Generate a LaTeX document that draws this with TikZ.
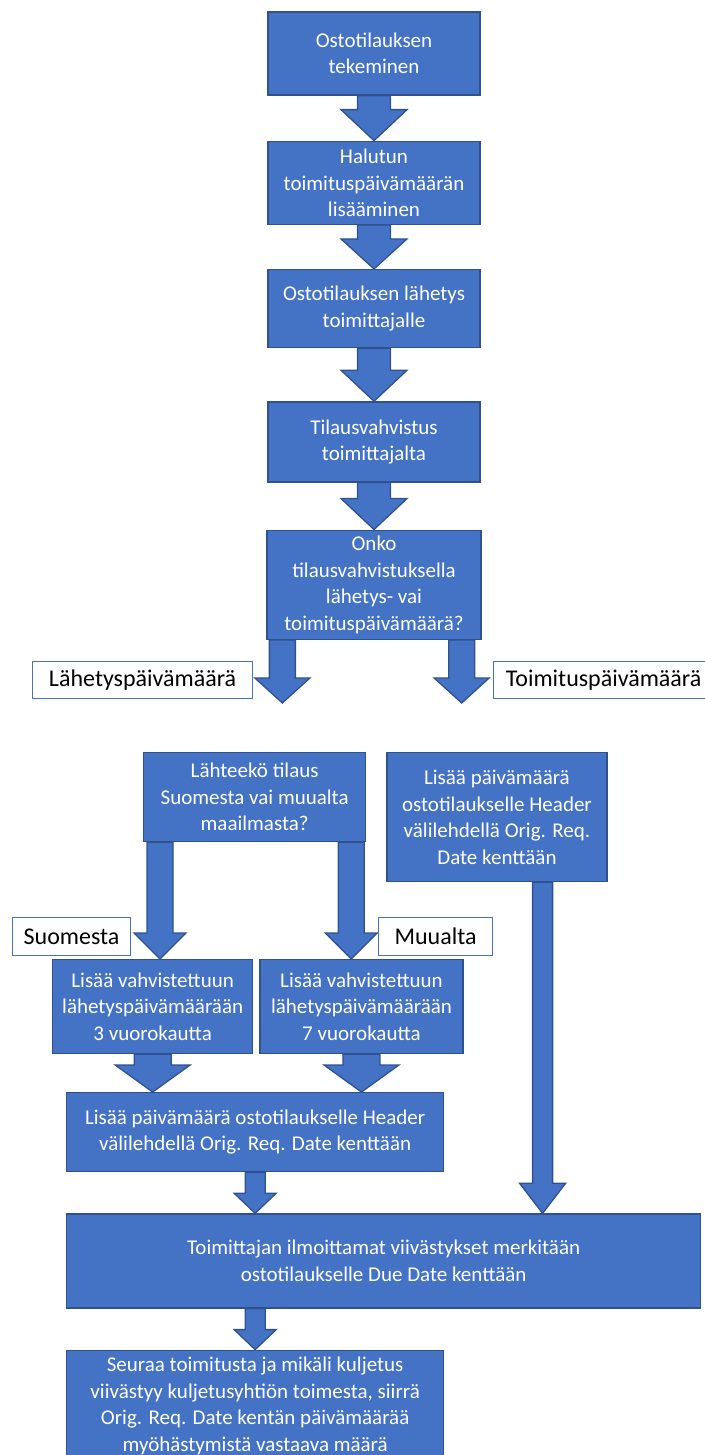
\documentclass[tikz,border=0pt]{standalone}
\usepackage{fontspec}
\setmainfont{Carlito}
\usepackage{tikz}
\usetikzlibrary{calc, positioning}

\definecolor{boxfill}{HTML}{4472C4}
\definecolor{boxline}{HTML}{2F528F}

% block arrow: start, end, half shaft, half head, head length
\newcommand{\barrow}[5]{%
  \draw[blockarrow] let \p1=(#1), \p2=(#2) in
    (\x1-#3pt,\y1) -- (\x1+#3pt,\y1) -- (\x1+#3pt,\y2+#5pt) -- (\x1+#4pt,\y2+#5pt)
    -- (\x1,\y2) -- (\x1-#4pt,\y2+#5pt) -- (\x1-#3pt,\y2+#5pt) -- cycle;}

\begin{document}
\begin{tikzpicture}[
        x=1pt, y=1pt,
        box/.style={rectangle, draw=boxline, fill=boxfill, line width=1.3pt, text=white, align=center, inner sep=0pt, minimum width=212pt, font=\fontsize{21}{26.5}\selectfont},
        choice/.style={rectangle, draw=boxfill, fill=white, line width=1.2pt, text=black, inner sep=0pt, minimum height=37pt, font=\fontsize{24}{29}\selectfont},
        blockarrow/.style={draw=boxline, fill=boxfill, line width=1.3pt, line join=miter}
    ]
    \useasboundingbox (0,0) rectangle (704,-1455);

    % Main chain
    \node [box, minimum height=83pt] (order) at (374,-53.5) {Ostotilauksen\\tekeminen};
    \node [box, minimum height=83pt, below=45pt of order] (wish) {Halutun\\toimituspäivämäärän\\lisääminen};
    \node [box, minimum height=78pt, below=44pt of wish] (send) {Ostotilauksen lähetys\\toimittajalle};
    \node [box, minimum height=80pt, below=53pt of send] (confirm) {Tilausvahvistus\\toimittajalta};
    \node [box, minimum height=109pt, minimum width=214pt, below=47pt of confirm] (which) {Onko\\tilausvahvistuksella\\lähetys- vai\\toimituspäivämäärä?};

    % Branch labels
    \node [choice, anchor=north west, minimum width=220pt] (shipdate) at (32,-661) {Lähetyspäivämäärä};
    \node [choice, anchor=north west, minimum width=228pt] (deldate) at (493,-661) {\hspace*{-8pt}Toimituspäivämäärä};
    \coordinate (shiptip) at (284,-703);
    \coordinate (deltip) at (462,-703);

    % Shipping date branch
    \node [box, anchor=north west, minimum width=222pt, minimum height=89pt] (origin) at (143,-752) {Lähteekö tilaus\\Suomesta vai muualta\\maailmasta?};
    \node [box, right=20pt of origin.north east, anchor=north west, minimum width=220pt, minimum height=129pt] (adddel) {Lisää päivämäärä\\ostotilaukselle Header\\välilehdellä Orig. Req.\\Date kenttään};

    \node [choice, anchor=north west, minimum width=118pt, minimum height=38pt] (fin) at (12,-917) {Suomesta};
    \node [choice, anchor=north west, minimum width=114pt, minimum height=38pt] (abroad) at (378,-917) {Muualta};

    \node [box, anchor=north west, minimum width=200pt, minimum height=94pt] (plus3) at (52,-959) {Lisää vahvistettuun\\lähetyspäivämäärään\\3 vuorokautta};
    \node [box, right=6pt of plus3.north east, anchor=north west, minimum width=203pt, minimum height=94pt] (plus7) {Lisää vahvistettuun\\lähetyspäivämäärään\\7 vuorokautta};

    \node [box, anchor=north west, minimum width=377pt, minimum height=79pt] (addship) at (66,-1092) {Lisää päivämäärä ostotilaukselle Header\\välilehdellä Orig. Req. Date kenttään};

    % Common end
    \node [box, below=41pt of addship.south west, anchor=north west, minimum width=634pt, minimum height=94pt] (delays) {Toimittajan ilmoittamat viivästykset merkitään\\ostotilaukselle Due Date kenttään};
    \node [box, below=41pt of delays.south west, anchor=north west, minimum width=377pt, minimum height=111pt] (follow) {Seuraa toimitusta ja mikäli kuljetus\\viivästyy kuljetusyhtiön toimesta, siirrä\\Orig. Req. Date kentän päivämäärää\\myöhästymistä vastaava määrä};

    % Connecting arrows
    \barrow{order.south}{wish.north}{16.5}{33}{31}
    \barrow{wish.south}{send.north}{16.5}{33}{30}
    \barrow{send.south}{confirm.north}{16.5}{33}{31}
    \barrow{confirm.south}{which.north}{16.5}{33}{31}

    \barrow{[xshift=16pt]which.south west}{shiptip}{13}{27.5}{25}
    \barrow{[xshift=-20pt]which.south east}{deltip}{13}{27.5}{25}

    \barrow{[xshift=17pt]origin.south west}{plus3.north}{13}{26}{26}
    \barrow{[xshift=-15pt]origin.south east}{plus7.north}{13}{26}{26}
    \barrow{[xshift=-65pt]adddel.south east}{delays.north}{10}{23}{30}

    \barrow{plus3.south}{addship.north}{18.5}{37.5}{27}
    \barrow{plus7.south}{addship.north}{18.5}{37.5}{27}
    \barrow{addship.south}{delays.north}{10}{21}{20}
    \barrow{delays.south -| follow.north}{follow.north}{10}{21}{20}

\end{tikzpicture}
\end{document}
